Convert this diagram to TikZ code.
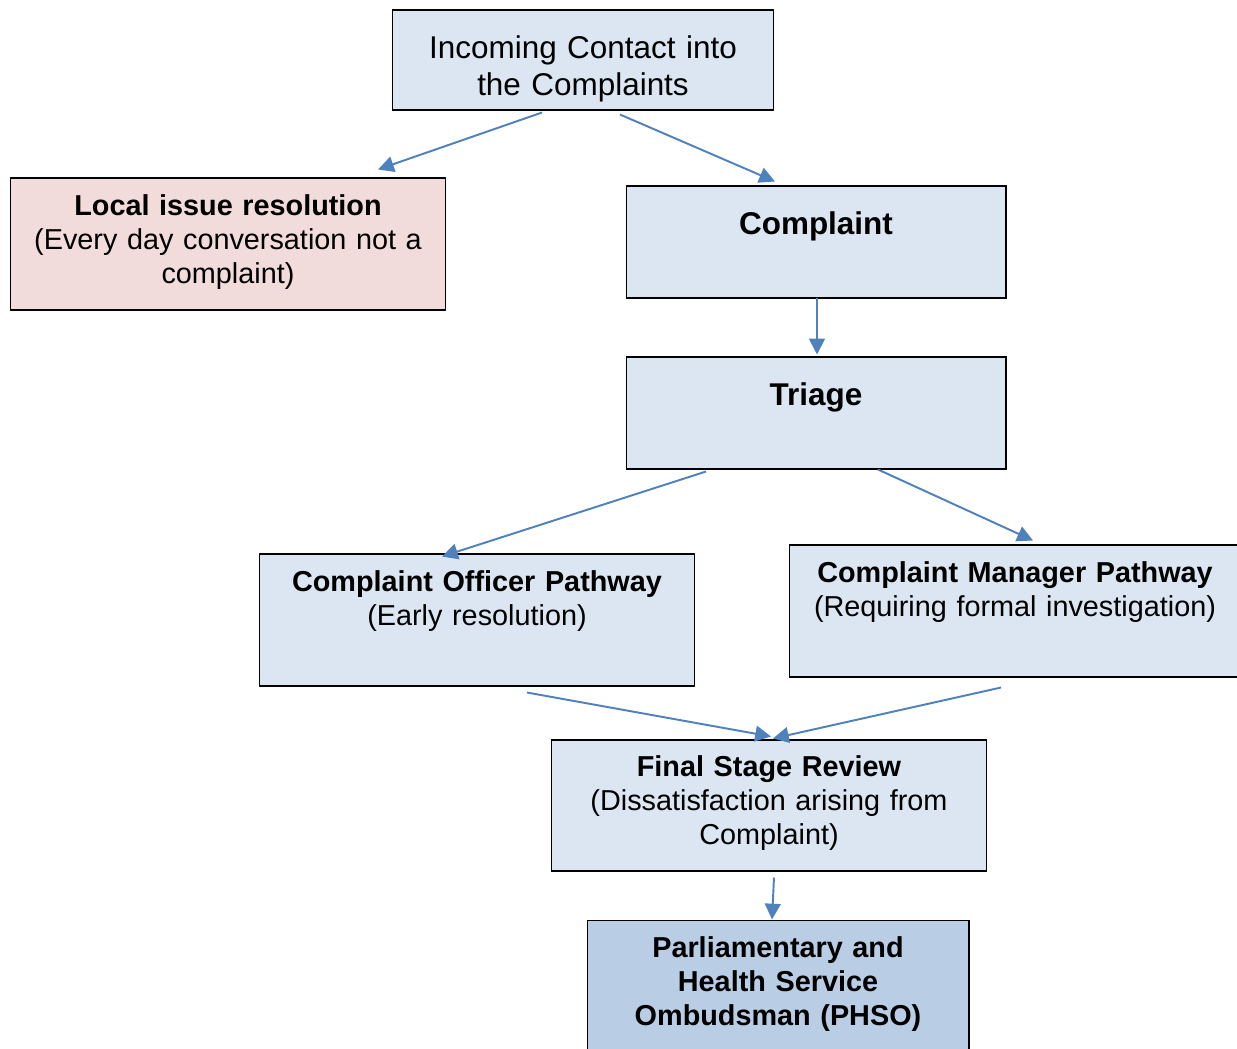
\documentclass[tikz,border=0pt]{standalone}
\usepackage{fontspec}
\setmainfont{Liberation Sans}
\usepackage{xcolor}
\usetikzlibrary{arrows.meta, positioning, calc}

\definecolor{boxblue}{HTML}{DCE6F2}
\definecolor{boxpink}{HTML}{F2DCDB}
\definecolor{boxdark}{HTML}{B9CDE5}
\definecolor{arrowblue}{HTML}{4F81BD}

\tikzset{
  box/.style={draw=black, line width=0.6pt, fill=boxblue, inner sep=0pt},
  txt/.style={anchor=base, align=center, text width=8.6cm, inner sep=0pt,
    font=\fontsize{16.4}{19.3}\selectfont},
  bigtxt/.style={txt, font=\fontsize{17.9}{21}\selectfont},
  flow/.style={draw=arrowblue, line width=1.1pt, -{Triangle[length=9pt, width=9pt]}}
}

\begin{document}
\begin{tikzpicture}[x=0.02cm, y=-0.02cm]
\clip (0,0) rectangle (1237,1048);
\fill[white] (0,0) rectangle (1237,1048);

\node[box, minimum width=7.64cm, minimum height=2cm] (incoming) at (583,60) {};
\node[box, fill=boxpink, minimum width=8.72cm, minimum height=2.64cm] (local) at (228,244) {};
\node[box, minimum width=7.6cm, minimum height=2.24cm] (complaint) at (816,242) {};
\node[box, minimum width=7.6cm, minimum height=2.24cm] (triage) at (816,413) {};
\node[box, minimum width=8.72cm, minimum height=2.64cm] (officer) at (477,620) {};
\node[box, minimum width=9.04cm, minimum height=2.64cm] (manager) at (1015,611) {};
\node[box, minimum width=8.72cm, minimum height=2.62cm] (final) at (769,805.5) {};
\node[box, fill=boxdark, minimum width=7.64cm, minimum height=3cm] (phso) at (778,995) {};

\node[bigtxt] (incomingtxt) at ($(incoming.north)+(0,49)$) {Incoming Contact into\\the Complaints};
\node[txt] (localtxt) at ($(local.north)+(0,38)$) {\textbf{Local issue resolution}\\(Every day conversation not a\\complaint)};
\node[bigtxt] (complainttxt) at ($(complaint.north)+(0,49)$) {\textbf{Complaint}};
\node[bigtxt] (triagetxt) at ($(triage.north)+(0,49)$) {\textbf{Triage}};
\node[txt] (officertxt) at ($(officer.north)+(0,38)$) {\textbf{Complaint Officer Pathway}\\(Early resolution)};
\node[txt] (managertxt) at ($(manager.north)+(0,38)$) {\textbf{Complaint Manager Pathway}\\(Requiring formal investigation)};
\node[txt] (finaltxt) at ($(final.north)+(0,37)$) {\textbf{Final Stage Review}\\(Dissatisfaction arising from\\Complaint)};
\node[txt] (phsotxt) at ($(phso.north)+(0,38)$) {\textbf{Parliamentary and}\\\textbf{Health Service}\\\textbf{Ombudsman (PHSO)}};

\draw[flow] ($(incoming.south)+(-41,2)$) -- ($(local.north)+(150,-8)$);
\draw[flow] ($(incoming.south)+(37,4)$) -- ($(complaint.north)+(-41,-4)$);
\draw[flow] ($(complaint.south)+(1,-1)$) -- ($(triage.north)+(1,-2)$);
\draw[flow] ($(triage.south)+(-110,2)$) -- ($(officer.north)+(-35,3)$);
\draw[flow] ($(triage.south)+(62,0)$) -- ($(manager.north)+(18,-4)$);
\draw[flow] ($(officer.south)+(50,6)$) -- ($(final.north)+(2,-3)$);
\draw[flow] ($(manager.south)+(-14,10)$) -- ($(final.north)+(4,-1)$);
\draw[flow] ($(final.south)+(5,6)$) -- ($(phso.north)+(-6,0)$);
\end{tikzpicture}
\end{document}
